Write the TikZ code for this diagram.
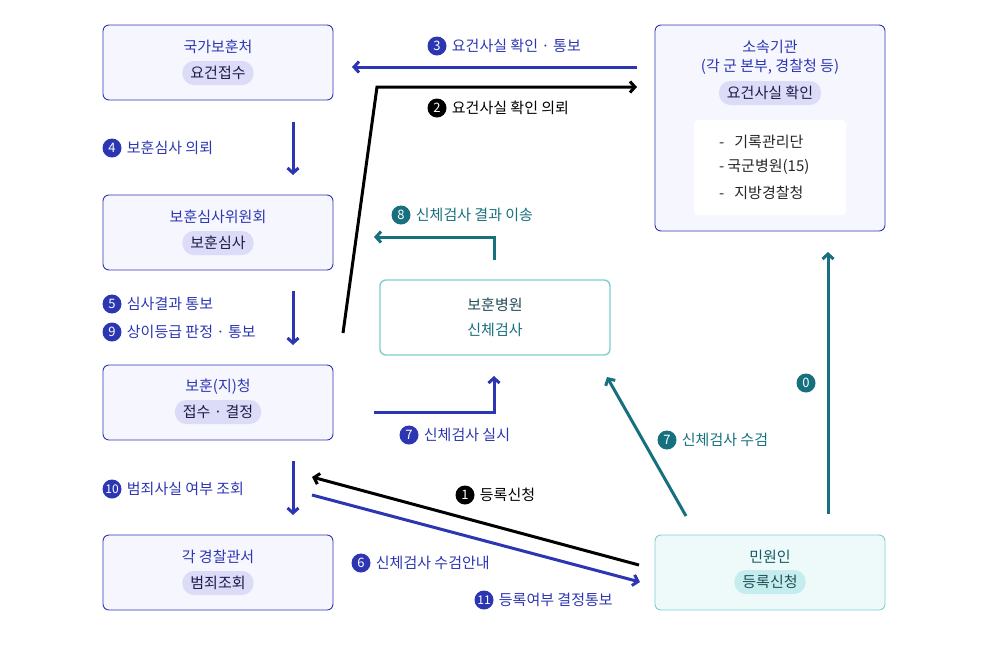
\documentclass[tikz,border=0pt]{standalone}
\usepackage{fontspec}
\setmainfont{Noto Sans CJK KR}
\usetikzlibrary{arrows.meta}
\usetikzlibrary{positioning}
\definecolor{navy}{HTML}{2D36B2}
\definecolor{boxfill}{HTML}{F6F6FF}
\definecolor{tagfill}{HTML}{DCDCF8}
\definecolor{tagtext}{HTML}{1C1C48}
\definecolor{sea}{HTML}{17707D}
\definecolor{seadark}{HTML}{1F4D57}
\definecolor{seaborder}{HTML}{80CFCF}
\definecolor{seafill}{HTML}{EEFAFA}
\definecolor{seatag}{HTML}{C5EDED}

\tikzset{
  box/.style={draw=navy, fill=boxfill, rounded corners=6pt, line width=0.9pt,
    minimum width=230pt, minimum height=75pt},
  title/.style={text=navy, font=\fontsize{15}{17}\selectfont},
  tag/.style={fill=tagfill, text=tagtext, rounded corners=11.5pt, minimum height=24pt,
    inner xsep=8pt, inner ysep=0pt, font=\fontsize{15}{17}\selectfont},
  flow/.style={line width=3pt, -{Straight Barb[length=5pt,width=11pt]}},
  lbl/.style={font=\fontsize{15}{17}\selectfont, inner sep=0pt, right=5pt},
  num/.style={circle, fill=#1, text=white, inner sep=0pt, minimum size=19pt,
    font=\fontsize{13}{13}\selectfont},
}

\begin{document}
\begin{tikzpicture}[x=1pt, y=-1pt]
\useasboundingbox (0, 0) rectangle (985, 657);

% left column
\node [box] (bohun) at (218, 62.5) {};
\node [title] (bohunT) at (218, 47) {국가보훈처};
\node [tag] (bohunB) at (218, 73) {요건접수};

\node [box] (simsa) at (218, 232.5) {};
\node [title] (simsaT) at (218, 217) {보훈심사위원회};
\node [tag] (simsaB) at (218, 243) {보훈심사};

\node [box] (jicheong) at (218, 402.5) {};
\node [title] (jicheongT) at (218, 387) {보훈(지)청};
\node [tag] (jicheongB) at (218, 412) {접수 · 결정};

\node [box] (police) at (218, 572.5) {};
\node [title] (policeT) at (218, 557) {각 경찰관서};
\node [tag] (policeB) at (218, 583) {범죄조회};

% right column
\node [box, minimum height=206pt] (org) at (770, 128) {};
\node [title] (orgT) at (770, 47) {소속기관};
\node [title] (orgS) at (770, 67) {(각 군 본부, 경찰청 등)};
\node [tag] (orgB) at (770, 93) {요건사실 확인};
\node [fill=white, rounded corners=4pt, minimum width=152pt, minimum height=95pt] (orgL) at (770, 167.5) {};
\node [lbl, right=0pt, text=black!85] (item1) at (719, 142) {-\hspace{10pt}기록관리단};
\node [lbl, right=0pt, text=black!85] (item2) at (719, 167) {-\hspace{3pt}국군병원(15)};
\node [lbl, right=0pt, text=black!85] (item3) at (719, 193) {-\hspace{10pt}지방경찰청};

\node [box, draw=seaborder, fill=white, line width=1.4pt] (hosp) at (495, 317.5) {};
\node [title, text=seadark] (hospT) at (495, 305) {보훈병원};
\node [title, text=sea] (hospB) at (495, 330) {신체검사};

\node [box, draw=seaborder, fill=seafill] (minwon) at (770, 572.5) {};
\node [title, text=sea!80!black] (minwonT) at (770, 557) {민원인};
\node [tag, fill=seatag, text=seadark] (minwonB) at (770, 582) {등록신청};

% arrow ends
\coordinate (a3s) at (637, 67);  \coordinate (a3e) at (352, 67);
\coordinate (a2s) at (343, 333); \coordinate (a2m) at (377, 87); \coordinate (a2e) at (637, 87);
\coordinate (a4s) at (293, 122); \coordinate (a4e) at (293, 175);
\coordinate (a5s) at (293, 291); \coordinate (a5e) at (293, 345);
\coordinate (a10s) at (293, 461); \coordinate (a10e) at (293, 515);
\coordinate (a8s) at (494, 260); \coordinate (a8m) at (494, 237); \coordinate (a8e) at (374, 237);
\coordinate (a7s) at (374, 412); \coordinate (a7m) at (494, 412); \coordinate (a7e) at (494, 376);
\coordinate (t7s) at (686, 516); \coordinate (t7e) at (607, 377);
\coordinate (a0s) at (828, 514); \coordinate (a0e) at (828, 252);
\coordinate (a1s) at (639, 565); \coordinate (a1e) at (312, 477);
\coordinate (a6s) at (312, 495); \coordinate (a6e) at (640, 582);

% connectors
\draw [flow, navy] (a3s) -- (a3e);
\draw [flow, black] (a2s) -- (a2m) -- (a2e);
\draw [flow, navy] (a4s) -- (a4e);
\draw [flow, navy] (a5s) -- (a5e);
\draw [flow, navy] (a10s) -- (a10e);
\draw [flow, sea] (a8s) -- (a8m) -- (a8e);
\draw [flow, navy] (a7s) -- (a7m) -- (a7e);
\draw [flow, sea] (t7s) -- (t7e);
\draw [flow, sea] (a0s) -- (a0e);
\draw [flow, black] (a1s) -- (a1e);
\draw [flow, navy] (a6s) -- (a6e);

% labels
\node [num=navy] (n3) at (437, 46) {3};
\node [lbl, text=navy, right=5pt of n3] {요건사실 확인 · 통보};
\node [num=black] (n2) at (437, 108) {2};
\node [lbl, text=black, right=5pt of n2] {요건사실 확인 의뢰};
\node [num=navy] (n4) at (112, 148) {4};
\node [lbl, text=navy, right=5pt of n4] {보훈심사 의뢰};
\node [num=navy] (n5) at (112, 304) {5};
\node [lbl, text=navy, right=5pt of n5] {심사결과 통보};
\node [num=navy] (n9) at (112, 332) {9};
\node [lbl, text=navy, right=5pt of n9] {상이등급 판정 · 통보};
\node [num=navy] (n10) at (112, 489) {\fontsize{12}{12}\selectfont 10};
\node [lbl, text=navy, right=5pt of n10] {범죄사실 여부 조회};
\node [num=sea] (n8) at (401, 215) {8};
\node [lbl, text=sea, right=5pt of n8] {신체검사 결과 이송};
\node [num=navy] (n7) at (409, 435) {7};
\node [lbl, text=navy, right=5pt of n7] {신체검사 실시};
\node [num=sea] (m7) at (667, 440) {7};
\node [lbl, text=sea, right=5pt of m7] {신체검사 수검};
\node [num=sea] (n0) at (806, 383) {0};
\node [num=black] (n1) at (465, 495) {1};
\node [lbl, text=black, right=5pt of n1] {등록신청};
\node [num=navy] (n6) at (361, 563) {6};
\node [lbl, text=navy, right=5pt of n6] {신체검사 수검안내};
\node [num=navy] (n11) at (484, 600) {\fontsize{12}{12}\selectfont 11};
\node [lbl, text=navy, right=5pt of n11] {등록여부 결정통보};
\end{tikzpicture}
\end{document}
